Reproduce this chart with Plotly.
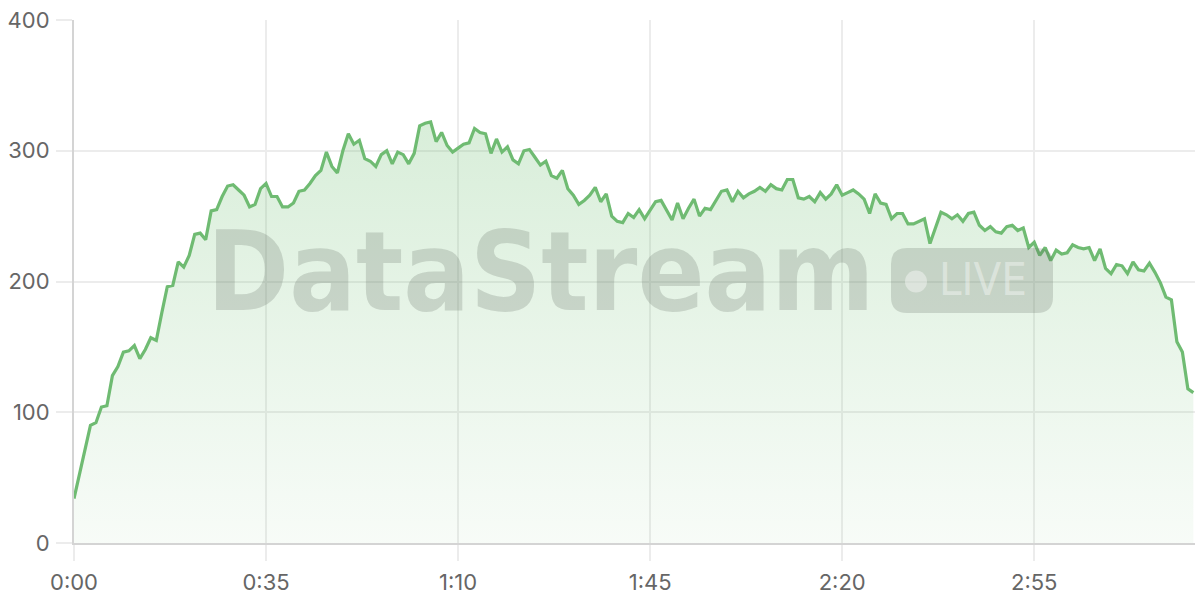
import plotly.graph_objects as go

# viewers per second of the stream
viewers = [
    34, 53, 72, 90, 92, 104, 105, 128, 135, 146,
    147, 151, 141, 148, 157, 155, 176, 196, 197, 215,
    211, 220, 236, 237, 232, 254, 255, 265, 273, 274,
    270, 266, 257, 259, 271, 275, 265, 265, 257, 257,
    260, 269, 270, 275, 281, 285, 299, 288, 283, 300,
    313, 305, 308, 294, 292, 288, 297, 300, 290, 299,
    297, 290, 298, 319, 321, 322, 307, 314, 304, 299,
    302, 305, 306, 317, 314, 313, 298, 309, 299, 303,
    293, 290, 300, 301, 295, 289, 292, 281, 279, 285,
    271, 266, 259, 262, 266, 272, 261, 267, 250, 246,
    245, 252, 249, 255, 248, 254, 261, 262, 255, 247,
    260, 248, 256, 263, 250, 256, 255, 262, 269, 270,
    261, 269, 264, 267, 269, 272, 269, 274, 271, 270,
    278, 278, 264, 263, 265, 261, 268, 263, 267, 274,
    266, 268, 270, 267, 263, 252, 267, 260, 259, 248,
    252, 252, 244, 244, 246, 248, 229, 241, 253, 251,
    248, 251, 246, 252, 253, 243, 239, 242, 238, 237,
    242, 243, 239, 241, 226, 230, 220, 226, 216, 224,
    221, 222, 228, 226, 225, 226, 216, 225, 210, 206,
    213, 212, 206, 215, 209, 208, 214, 207, 199, 188,
    186, 154, 146, 118, 115,
]
seconds = list(range(len(viewers)))

tick_vals = [0, 35, 70, 105, 140, 175]
tick_text = ["0:00", "0:35", "1:10", "1:45", "2:20", "2:55"]

W, H = 1200, 600
ML, MR, MT, MB = 74, 5, 20, 57
PW, PH = W - ML - MR, H - MT - MB


def px(x):
    return (x - ML) / PW


def py(y):
    return (H - MB - y) / PH


def rounded_box(x0, y0, x1, y1, r):
    # rounded rectangle path in paper units, given in screen pixels
    rx, ry = r / PW, r / PH
    a, b, c, d = px(x0), px(x1), py(y1), py(y0)
    return (f"M {a + rx},{c} L {b - rx},{c} Q {b},{c} {b},{c + ry} "
            f"L {b},{d - ry} Q {b},{d} {b - rx},{d} L {a + rx},{d} "
            f"Q {a},{d} {a},{d - ry} L {a},{c + ry} Q {a},{c} {a + rx},{c} Z")


fig = go.Figure()
fig.add_trace(go.Scatter(
    x=seconds, y=viewers, mode="lines",
    line=dict(color="#6fbb72", width=3.2),
    fill="tozeroy",
    fillgradient=dict(type="vertical", start=0, stop=320,
                      colorscale=[[0, "rgba(102,187,106,0.05)"],
                                  [1, "rgba(102,187,106,0.25)"]]),
    hoverinfo="skip",
))

# watermark
wm = "rgba(90,100,90,0.22)"
fig.add_annotation(text="<b>DataStream</b>", xref="paper", yref="paper",
                   x=px(540), y=py(272), xanchor="center", yanchor="middle",
                   showarrow=False,
                   font=dict(family="DejaVu Sans Condensed", size=110, color=wm))
fig.add_shape(type="path", xref="paper", yref="paper",
              path=rounded_box(891, 248, 1053, 313, 16),
              fillcolor=wm, line=dict(width=0), layer="above")
fig.add_shape(type="circle", xref="paper", yref="paper",
              x0=px(905), x1=px(927), y0=py(292.5), y1=py(270.5),
              fillcolor="rgba(255,255,255,0.4)", line=dict(width=0), layer="above")
fig.add_annotation(text="LIVE", xref="paper", yref="paper",
                   x=px(982.5), y=py(279.5), xanchor="center", yanchor="middle",
                   showarrow=False,
                   font=dict(family="DejaVu Sans Condensed", size=45,
                             color="rgba(255,255,255,0.4)"))

axis_common = dict(
    showgrid=True, gridcolor="#ececec", gridwidth=1.5,
    showline=True, linecolor="#d4d4d4", linewidth=2,
    ticks="outside", ticklen=16, tickcolor="#ececec", tickwidth=1.5,
    zeroline=False,
    tickfont=dict(family="Inter", size=22, color="#666666"),
)

fig.update_xaxes(range=[0, 204.3], tickvals=tick_vals, ticktext=tick_text,
                 ticklabelstandoff=3, **axis_common)
fig.update_yaxes(range=[0, 400], dtick=100, ticklabelstandoff=2, **axis_common)

fig.update_layout(
    width=W, height=H,
    margin=dict(l=ML, r=MR, t=MT, b=MB),
    plot_bgcolor="white", paper_bgcolor="white",
    showlegend=False,
)

# page has a default 8px body margin; drop it so the figure fills the window
fig.write_html("out.html", config={"displayModeBar": False},
               post_script="document.body.style.margin='0';")
